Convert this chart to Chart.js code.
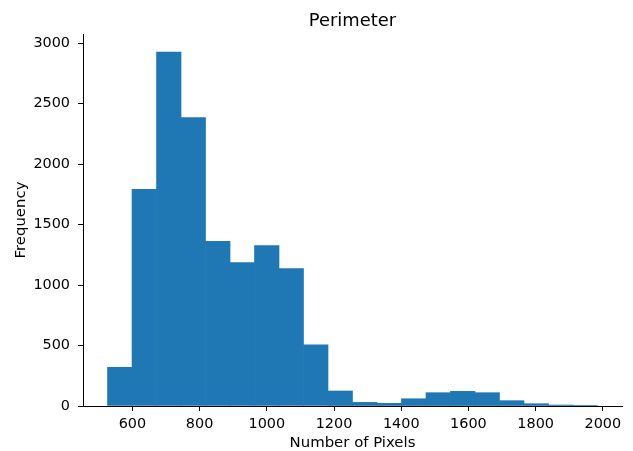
<!DOCTYPE html>
<html>
<head>
<meta charset="utf-8">
<script src="https://cdn.jsdelivr.net/npm/chart.js@4.4.0/dist/chart.umd.min.js"></script>
<style>
  html, body { margin: 0; padding: 0; background: #fff; }
  #wrap { width: 633px; height: 451px; position: relative; }
</style>
</head>
<body>
<div id="wrap"><canvas id="chart"></canvas></div>
<script>
// Histogram bins (left edges, width) and counts
const binStart = 526;
const binWidth = 72.9;
const binCounts = [320, 1792, 2925, 2385, 1362, 1186, 1326, 1136, 505, 124,
                   30, 22, 60, 110, 121, 110, 44, 19, 8, 5];

// Tick labels
const xTicks = [600, 800, 1000, 1200, 1400, 1600, 1800, 2000];
const yTicks = [0, 500, 1000, 1500, 2000, 2500, 3000];

const chartTitle = 'Perimeter';
const xLabel = 'Number of Pixels';
const yLabel = 'Frequency';

// bar centres built from the bins
const points = binCounts.map((c, i) => ({ x: binStart + binWidth * (i + 0.5), y: c }));

const font = 'DejaVu Sans';

// Title and axis labels drawn like matplotlib does them
const labelsPlugin = {
    id: 'labels',
    afterDraw(chart) {
        const ctx = chart.ctx;
        const area = chart.chartArea;
        const cx = (area.left + area.right) / 2;
        ctx.save();
        ctx.fillStyle = '#000';
        ctx.textAlign = 'center';
        ctx.textBaseline = 'alphabetic';
        ctx.font = '17.9px "' + font + '"';
        ctx.fillText(chartTitle, cx, 25.7);
        ctx.font = '14.9px "' + font + '"';
        ctx.fillText(xLabel, cx, 446.7);
        ctx.translate(24.5, (area.top + area.bottom) / 2);
        ctx.rotate(-Math.PI / 2);
        ctx.fillText(yLabel, 0, 0);
        ctx.restore();
    }
};

const ctx = document.getElementById('chart').getContext('2d');
const chart = new Chart(ctx, {
    type: 'bar',
    data: {
        datasets: [{
            data: points,
            backgroundColor: '#1f77b4',
            borderWidth: 0,
            barPercentage: 1.0,
            categoryPercentage: 1.0,
        }],
    },
    options: {
        responsive: true,
        maintainAspectRatio: false,
        animation: false,
        layout: { padding: { left: 0, right: 11, top: 34, bottom: 0 } },
        plugins: {
            legend: { display: false },
            tooltip: { enabled: false },
            title: { display: false },
        },
        scales: {
            x: {
                type: 'linear',
                min: 453,
                max: 2057,
                offset: false,
                afterBuildTicks: (scale) => { scale.ticks = xTicks.map(v => ({ value: v })); },
                afterFit: (scale) => { scale.height = 45; },
                grid: { display: true, offset: false, drawOnChartArea: false, drawTicks: true, tickLength: 5, color: '#000', tickWidth: 1 },
                border: { display: true, color: '#000', width: 1 },
                ticks: {
                    color: '#000',
                    padding: 5,
                    maxRotation: 0,
                    autoSkip: false,
                    font: { family: font, size: 14.4 },
                    callback: (v) => String(v),
                },
            },
            y: {
                min: 0,
                max: 3075,
                afterBuildTicks: (scale) => { scale.ticks = yTicks.map(v => ({ value: v })); },
                afterFit: (scale) => { scale.width = 83; },
                grid: { display: true, drawOnChartArea: false, drawTicks: true, tickLength: 5, color: '#000', tickWidth: 1 },
                border: { display: true, color: '#000', width: 1 },
                ticks: {
                    color: '#000',
                    padding: 8,
                    autoSkip: false,
                    font: { family: font, size: 14.4 },
                    callback: (v) => String(v),
                },
            },
        },
    },
    plugins: [labelsPlugin],
});
</script>
</body>
</html>
